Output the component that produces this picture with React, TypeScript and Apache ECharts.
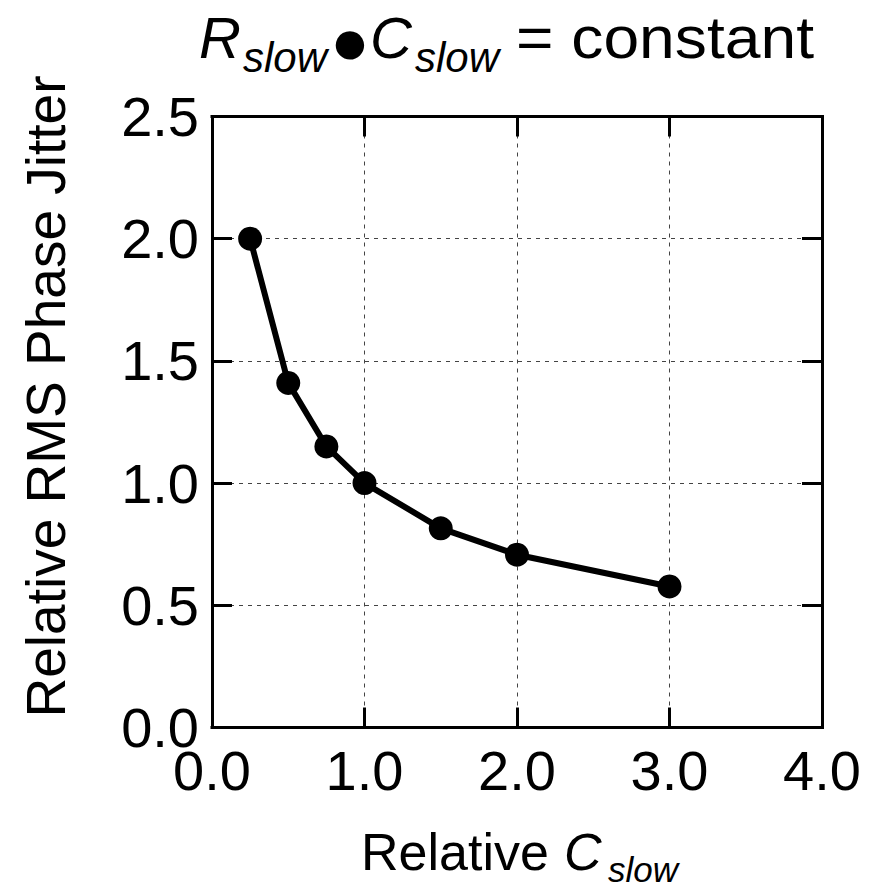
import React, { useEffect, useRef } from "react";
import * as echarts from "echarts";

// Data
const relativeCslow = [0.25, 0.5, 0.75, 1.0, 1.5, 2.0, 3.0];
const relativeJitter = [2.0, 1.41, 1.15, 1.0, 0.815, 0.707, 0.577];

const xRange = { min: 0, max: 4, interval: 1 };
const yRange = { min: 0, max: 2.5, interval: 0.5 };

const titleMain = "R";
const titleSub = "slow";
const titleBullet = "●";
const titleMain2 = "C";
const titleRest = "= constant";
const xNameMain = "Relative";
const xNameItalic = "C";
const xNameSub = "slow";
const yName = "Relative RMS Phase Jitter";

const FONT = "'Liberation Sans', Arial, Helvetica, sans-serif";

export default function App() {
  const ref = useRef<HTMLDivElement>(null);

  useEffect(() => {
    if (!ref.current) return;
    const chart = echarts.init(ref.current, undefined, { renderer: "svg" });

    const tickStyle = { show: true, inside: true, length: 20, lineStyle: { color: "#000", width: 3 } };
    const lineStyle = { color: "#000", width: 3, cap: "square" as const };
    const labelFont = { color: "#000", fontSize: 56, fontFamily: FONT };

    const txt = (
      text: string,
      x: number,
      y: number,
      size: number,
      italic = false,
      extra: any = {},
      lineHeight?: number
    ) => {
      const { align, ...rest } = extra;
      return {
        type: "text",
        x,
        y,
        silent: true,
        ...rest,
        style: {
          text,
          fill: "#000",
          fontSize: size,
          lineHeight: lineHeight ?? size,
          fontFamily: FONT,
          fontStyle: italic ? "italic" : "normal",
          align: align || "left",
          verticalAlign: "middle",
        },
      };
    };

    const option: any = {
      animation: false,
      backgroundColor: "#fff",
      grid: { left: 212, top: 116.5, right: 51, bottom: 160.5, containLabel: false },
      xAxis: [
        {
          type: "value",
          position: "bottom",
          ...xRange,
          axisLine: { show: true, onZero: false, lineStyle },
          axisTick: tickStyle,
          axisLabel: { ...labelFont, lineHeight: 44, margin: 21, formatter: (v: number) => v.toFixed(1), showMinLabel: true, showMaxLabel: true },
          splitLine: { show: true, lineStyle: { color: "#444", width: 1, type: [4, 5] } },
        },
        {
          type: "value",
          position: "top",
          ...xRange,
          axisLine: { show: true, onZero: false, lineStyle },
          axisTick: tickStyle,
          axisLabel: { show: false },
          splitLine: { show: false },
        },
      ],
      yAxis: [
        {
          type: "value",
          position: "left",
          ...yRange,
          axisLine: { show: true, onZero: false, lineStyle },
          axisTick: tickStyle,
          axisLabel: { ...labelFont, lineHeight: 40, margin: 13, formatter: (v: number) => v.toFixed(1), showMinLabel: true, showMaxLabel: true },
          splitLine: { show: true, lineStyle: { color: "#444", width: 1, type: [4, 5] } },
        },
        {
          type: "value",
          position: "right",
          ...yRange,
          axisLine: { show: true, onZero: false, lineStyle },
          axisTick: tickStyle,
          axisLabel: { show: false },
          splitLine: { show: false },
        },
      ],
      series: [
        {
          type: "line",
          data: relativeCslow.map((x, i) => [x, relativeJitter[i]]),
          xAxisIndex: 0,
          yAxisIndex: 0,
          symbol: "circle",
          symbolSize: 24,
          itemStyle: { color: "#000" },
          lineStyle: { color: "#000", width: 6 },
          z: 5,
        },
      ],
      graphic: [
        // title
        txt(titleMain, 199, 37, 58, true),
        txt(titleSub, 243, 57.5, 42, true),
        txt(titleBullet, 350, 41, 66, false, { align: "center" }),
        txt(titleMain2, 370, 37, 58, true),
        txt(titleSub, 415, 57.5, 42, true),
        txt(titleRest, 516, 37, 60, false, { scaleX: 1.07 }),
        // x axis name
        txt(xNameMain, 361, 852, 52, false),
        txt(xNameItalic, 564, 852, 52, true),
        txt(xNameSub, 608, 869.5, 35, true, {}, 26),
        // y axis name
        txt(yName, 46, 396.5, 55, false, { align: "center", rotation: Math.PI / 2 }),
      ],
    };

    chart.setOption(option);
    return () => chart.dispose();
  }, []);

  return (
    <div
      ref={ref}
      style={{ position: "fixed", left: 0, top: 0, width: 873, height: 888, background: "#fff" }}
    />
  );
}
